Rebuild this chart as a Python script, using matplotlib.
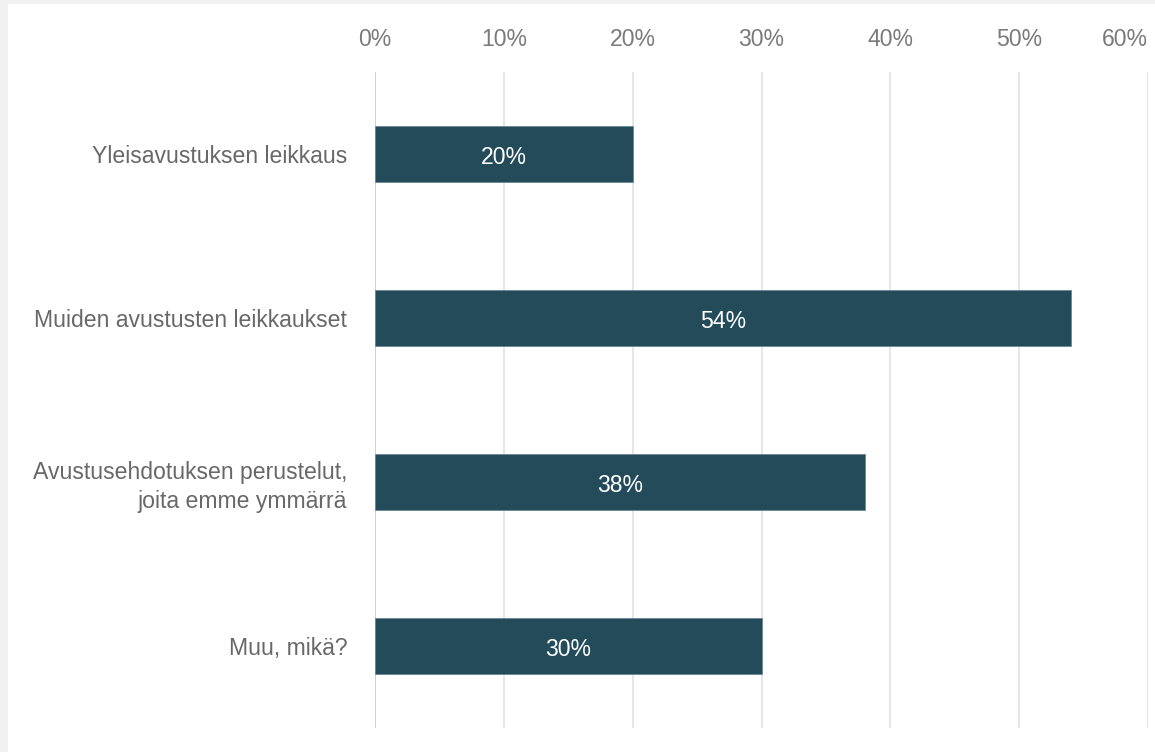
import matplotlib.pyplot as plt
from matplotlib.patches import Rectangle
from matplotlib.ticker import FuncFormatter

categories = ['Yleisavustuksen leikkaus', 'Muiden avustusten leikkaukset',
              'Avustusehdotuksen perustelut,\njoita emme ymmärrä', 'Muu, mikä?']
values = [20, 54, 38, 30]
ticks = [0, 10, 20, 30, 40, 50, 60]

plt.rcParams['font.family'] = ['Liberation Sans', 'DejaVu Sans']

fig = plt.figure(figsize=(11.55, 7.52), dpi=100)
fig.patch.set_facecolor('#f1f1f1')
fig.patches.append(Rectangle((8 / 1155, 0), 1, 1 - 4 / 752, transform=fig.transFigure,
                             facecolor='white', edgecolor='none', zorder=-10))

ax = fig.add_axes([375 / 1155, 24 / 752, 773 / 1155, 656 / 752])
ax.set_facecolor('none')

y = list(range(len(categories)))
bars = ax.barh(y, values, height=0.34, color='#234b5a', edgecolor='#6a8896', linewidth=0.6, zorder=3)
for b, v in zip(bars, values):
    ax.text(v / 2, b.get_y() + b.get_height() / 2 + 0.02, f'{v}%', ha='center', va='center',
            color='white', fontsize=16.6, zorder=4)

ax.set_xlim(0, 60)
ax.set_ylim(len(categories) - 0.5, -0.5)
ax.set_xticks(ticks)
ax.xaxis.set_major_formatter(FuncFormatter(lambda v, p: f'{int(v)}%'))
ax.xaxis.tick_top()
ax.tick_params(axis='x', length=0, pad=15, labelsize=16.6, labelcolor='#7a7a7a')
ax.get_xticklabels()[-1].set_ha('right')
ax.set_yticks(y)
ax.set_yticklabels(categories, ha='right', multialignment='right', linespacing=1.3)
ax.tick_params(axis='y', length=0, pad=20, labelsize=16.6, labelcolor='#686868')

for t in ticks[1:]:
    ax.axvline(t, color='#e2e2e2', linewidth=1.2, zorder=1)
ax.axvline(0, color='#c5d0ee', linewidth=1.4, zorder=2)

for s in ax.spines.values():
    s.set_visible(False)

fig.savefig('out.png', dpi=100)
